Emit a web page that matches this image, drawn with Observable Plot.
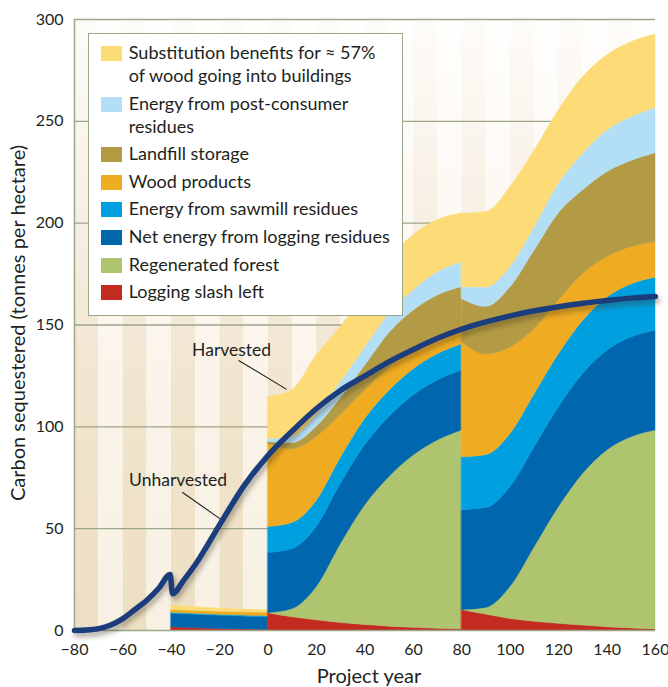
<!DOCTYPE html>
<html>
<head>
<meta charset="utf-8">
<script src="https://cdn.jsdelivr.net/npm/d3@7"></script>
<script src="https://cdn.jsdelivr.net/npm/@observablehq/plot@0.6"></script>
<style>
  html, body { margin: 0; padding: 0; background: #fff; }
  #wrap { position: relative; width: 668px; height: 687px; font-family: Lato, sans-serif; color: #231f20; }
  #legend { position: absolute; left: 88px; top: 33px; width: 315px; height: 283px; box-sizing: border-box;
            border: 1.5px solid #9ca689; background: #fff; padding: 7px 0 0 12.2px;
            font-size: 18px; line-height: 23px; }
  .item { display: flex; align-items: flex-start; margin-bottom: 4.6px; }
  .sw { width: 21px; height: 15px; flex: none; margin-top: 5px; margin-right: 6.6px; }
</style>
</head>
<body>
<div id="wrap">
  <div id="chart"></div>
  <div id="legend"></div>
</div>
<script>
// ---------- data ----------
const layers = ["slash", "forest", "logging", "sawmill", "wood", "landfill", "post", "subst"];
const legendLabels = [
  "Logging slash left",
  "Regenerated forest",
  "Net energy from logging residues",
  "Energy from sawmill residues",
  "Wood products",
  "Landfill storage",
  "Energy from post-consumer<br>residues",
  "Substitution benefits for \u2248 57%<br>of wood going into buildings"
];
const colors = ["#c32b22", "#aec46e", "#0066ae", "#00a0e0", "#efac23", "#b39a44", "#b3dff6", "#fddb77"];

// first (small) harvest, years -40..0 (layer thickness, t/ha)
const years0 = [-40, -20, 0];
const slash0   = [1.6, 0.7, 0.3];
const logging0 = [6.6, 6.5, 6.2];
const sawmill0 = [0.5, 0.5, 0.5];
const wood0    = [1.4, 1.5, 1.7];
const subst0   = [2.0, 1.5, 1.1];

// first rotation, years 0..80
const years1 = [0, 10, 20, 30, 40, 50, 60, 70, 80];
const slash1    = [8.5, 6.5, 5.0, 3.7, 2.7, 1.9, 1.3, 0.8, 0.5];
const forest1   = [0, 4, 16.3, 38.8, 58.7, 73.4, 84.6, 92.5, 97.7];
const logging1  = [29.5, 29.5, 29.5, 29.5, 29.5, 29.5, 29.5, 29.5, 29.5];
const sawmill1  = [12.8, 12.8, 12.8, 12.8, 12.8, 12.8, 12.8, 12.8, 12.8];
const wood1     = [40.8, 36.2, 31.4, 21.2, 14.3, 11.4, 8.8, 7.4, 7.5];
const landfill1 = [0.9, 3, 5, 8, 12, 17, 20, 21.5, 20.5];
const post1     = [1.5, 3, 6, 8, 9, 9.5, 10, 11.5, 12.3];
const subst1    = [20.5, 23, 29, 27, 26, 27, 27, 25.5, 24];

// second rotation, years 80..160
const years2 = [80, 90, 100, 110, 120, 130, 140, 150, 160];
const slash2    = [10.1, 7.8, 5.7, 4.3, 3.3, 2.4, 1.6, 1.0, 0.5];
const forest2   = [0, 3.3, 15.6, 36.6, 57.2, 74.5, 86.8, 93.9, 97.7];
const logging2  = [49, 49, 49, 49, 49, 49, 49, 49, 49];
const sawmill2  = [26, 26, 26, 26, 26, 26, 26, 26, 26];
const wood2     = [56.4, 49.4, 42.7, 32.1, 26.5, 23.2, 19.9, 18.3, 17.4];
const landfill2 = [21.3, 23.4, 29.4, 38.5, 42.8, 40.9, 41.7, 42.3, 43.7];
const post2     = [5.7, 9.5, 10, 11.5, 14.5, 18, 20.5, 21.5, 22.3];
const subst2    = [36.1, 36.9, 39.2, 37.6, 36, 37.6, 36.8, 36.8, 36];

// unharvested forest carbon
const lineYears  = [-80, -75, -70, -65, -60, -55, -50, -45, -40.5, -39.5, -35, -30, -20, -10, 0, 10, 20, 30, 40, 50, 60, 70, 80, 90, 100, 110, 120, 130, 140, 150, 160];
const lineValues = [0, 0.2, 0.9, 2.7, 5.8, 10.3, 15, 21, 27.5, 18, 24.5, 32.5, 52, 71, 86, 98, 109, 118, 125, 132, 138, 143.5, 148, 151.5, 154.5, 157, 159, 160.7, 162, 163.2, 164];

const xTicks = [-80, -60, -40, -20, 0, 20, 40, 60, 80, 100, 120, 140, 160];
const yTicks = [0, 50, 100, 150, 200, 250, 300];

// annotations (label, text position, pointer start, pointer end)
const notes = [
  {label: "Harvested",   tx: -15.1, ty: 137.5, x1: -12.2, y1: 132.6, x2: 7.6,   y2: 118.4},
  {label: "Unharvested", tx: -37.2, ty: 73.6,  x1: -35.5, y1: 67.9,  x2: -19.8, y2: 54.8}
];

// ---------- build tables ----------
function table(years, series) {
  const out = [];
  layers.forEach(l => {
    if (!series[l]) return;
    years.forEach((y, i) => out.push({year: y, layer: l, value: series[l][i]}));
  });
  return out;
}
const seg0 = table(years0, {slash: slash0, logging: logging0, sawmill: sawmill0, wood: wood0, subst: subst0});
const seg1 = table(years1, {slash: slash1, forest: forest1, logging: logging1, sawmill: sawmill1, wood: wood1, landfill: landfill1, post: post1, subst: subst1});
const seg2 = table(years2, {slash: slash2, forest: forest2, logging: logging2, sawmill: sawmill2, wood: wood2, landfill: landfill2, post: post2, subst: subst2});
const lineData = lineYears.map((x, i) => ({x, y: lineValues[i]}));

const stripes = d3.range(-80, 160, 10).map((x, i) => ({x1: x, x2: x + 10, dark: i % 2 === 0}));
const gridColor = "#9ca689";
const ink = "#231f20";

const areaOpts = (curve) => ({x: "year", y: "value", z: "layer", fill: "layer", stroke: "layer", strokeWidth: 0.5, curve});

const svg = Plot.plot({
  width: 668,
  height: 687,
  marginLeft: 74,
  marginRight: 13,
  marginTop: 19,
  marginBottom: 57,
  style: {fontFamily: "Lato, sans-serif", fontSize: "16px", color: ink, background: "transparent", overflow: "visible"},
  x: {domain: [-80, 160], ticks: xTicks, tickSize: 0, tickPadding: 13, label: null},
  y: {domain: [0, 300], ticks: yTicks, tickSize: 0, tickPadding: 11, label: null},
  color: {domain: layers, range: colors},
  marks: [
    Plot.rect(stripes.filter(d => d.dark), {x1: "x1", x2: "x2", y1: 0, y2: 300, fill: "url(#gDark)"}),
    Plot.rect(stripes.filter(d => !d.dark), {x1: "x1", x2: "x2", y1: 0, y2: 300, fill: "url(#gLight)"}),
    Plot.ruleY(yTicks.filter(v => v > 0), {stroke: gridColor, strokeWidth: 1.3}),
    Plot.ruleX([-80], {stroke: gridColor, strokeWidth: 1.5}),
    Plot.areaY(seg0, areaOpts("linear")),
    Plot.areaY(seg1, areaOpts("monotone-x")),
    Plot.areaY(seg2, areaOpts("monotone-x")),
    Plot.ruleY([0], {stroke: gridColor, strokeWidth: 1.3}),
    Plot.line(lineData, {x: "x", y: "y", stroke: "#1a3d7c", strokeWidth: 5.5, curve: "monotone-x", strokeLinecap: "round", strokeLinejoin: "round"}),
    Plot.link(notes, {x1: "x1", y1: "y1", x2: "x2", y2: "y2", stroke: ink, strokeWidth: 1.1}),
    Plot.text(notes, {x: "tx", y: "ty", text: "label", fontSize: 17.5, fill: ink}),
    Plot.text(["Project year"], {frameAnchor: "bottom", textAnchor: "middle", lineAnchor: "middle", dx: 4, dy: 46, fontSize: 20, fill: ink}),
    Plot.text(["Carbon sequestered (tonnes per hectare)"], {frameAnchor: "left", textAnchor: "middle", lineAnchor: "middle", rotate: -90, dx: -56, dy: -2, fontSize: 20, fill: ink})
  ]
});

// gradients for the background stripes and a soft shadow for the line
const defs = document.createElementNS("http://www.w3.org/2000/svg", "defs");
defs.innerHTML = `
  <linearGradient id="gDark" x1="0" y1="0" x2="0" y2="1">
    <stop offset="0" stop-color="#fefcf9"/>
    <stop offset="0.35" stop-color="#f6eee2"/>
    <stop offset="0.6" stop-color="#f1e5cf"/>
    <stop offset="1" stop-color="#eddfc3"/>
  </linearGradient>
  <linearGradient id="gLight" x1="0" y1="0" x2="0" y2="1">
    <stop offset="0" stop-color="#fffefd"/>
    <stop offset="0.35" stop-color="#fcf8f3"/>
    <stop offset="0.6" stop-color="#faf4ea"/>
    <stop offset="1" stop-color="#f8f0e3"/>
  </linearGradient>
  <filter id="shadow" x="-5%" y="-10%" width="115%" height="130%">
    <feDropShadow dx="2" dy="4" stdDeviation="2.5" flood-color="#3a2e1a" flood-opacity="0.4"/>
  </filter>`;
svg.insertBefore(defs, svg.firstChild);
svg.querySelectorAll('g[aria-label="line"]').forEach(g => g.setAttribute("filter", "url(#shadow)"));

document.getElementById("chart").appendChild(svg);

// legend (top item first)
const legend = document.getElementById("legend");
for (let i = layers.length - 1; i >= 0; i--) {
  const item = document.createElement("div");
  item.className = "item";
  item.innerHTML = `<div class="sw" style="background:${colors[i]}"></div><div>${legendLabels[i]}</div>`;
  legend.appendChild(item);
}
</script>
</body>
</html>
